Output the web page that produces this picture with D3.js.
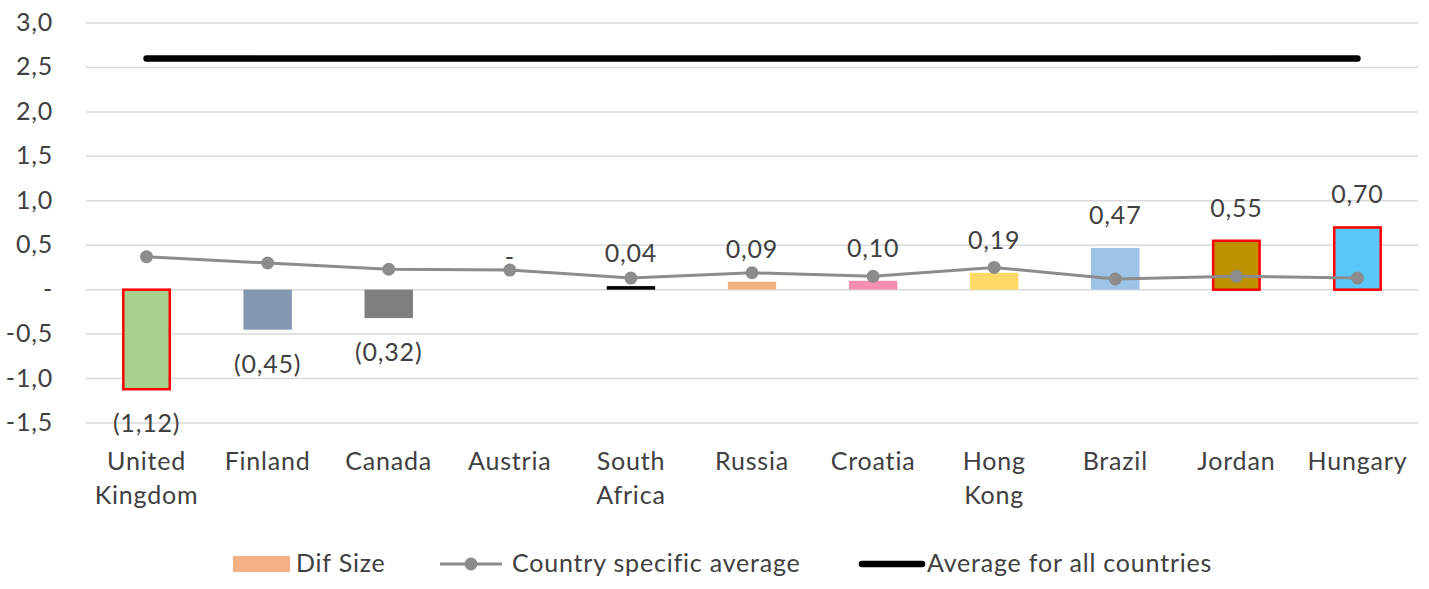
<!DOCTYPE html>
<html>
<head>
    <title>dif size chart</title>
    <script src="https://d3js.org/d3.v7.min.js"></script>
    <style>
        body { margin: 0; background: #fff; }
        text { font-family: "Lato", "Open Sans", sans-serif; fill: #404040; letter-spacing: 0.8px; }
    </style>
</head>
<body>
    <svg id="chart" width="1429" height="589"></svg>
    <script>

// data
var countries = ["United Kingdom", "Finland", "Canada", "Austria", "South Africa", "Russia",
                 "Croatia", "Hong Kong", "Brazil", "Jordan", "Hungary"];
var difSize = [-1.12, -0.45, -0.32, 0, 0.04, 0.09, 0.10, 0.19, 0.47, 0.55, 0.70];
var countryAvg = [0.37, 0.30, 0.23, 0.22, 0.13, 0.19, 0.15, 0.25, 0.12, 0.15, 0.13];
var allAvg = 2.6;
var barColors = ["#a9d18e", "#8497b0", "#7f7f7f", "none", "#000000", "#f4b183",
                 "#f48fb1", "#ffd966", "#9dc3e6", "#bf9000", "#5bc8fa"];
var redBorder = [true, false, false, false, false, false, false, false, false, true, true];
var yTicks = [-1.5, -1.0, -0.5, 0, 0.5, 1.0, 1.5, 2.0, 2.5, 3.0];

var FS = 25;

var svg = d3.select('#chart');

var x = d3.scaleBand()
    .domain(countries)
    .range([86, 1418])
    .paddingInner(0.6)
    .paddingOuter(0.3);

var y = d3.scaleLinear()
    .domain([-1.5, 3.0])
    .range([423, 23]);

function fmt(v) {
    if (v === 0) return '-';
    var s = Math.abs(v).toFixed(2).replace('.', ',');
    return v < 0 ? '(' + s + ')' : s;
}
function fmtTick(v) {
    if (v === 0) return '-';
    return v.toFixed(1).replace('.', ',');
}

// gridlines
svg.append('g')
  .selectAll('line')
  .data(yTicks)
  .enter().append('line')
    .attr('x1', 86).attr('x2', 1418)
    .attr('y1', function (d) { return y(d) })
    .attr('y2', function (d) { return y(d) })
    .attr('stroke', '#d9d9d9')
    .attr('stroke-width', 1.5)

// y tick labels
svg.append('g')
  .selectAll('text')
  .data(yTicks)
  .enter().append('text')
    .attr('x', 53)
    .attr('y', function (d) { return y(d) + 8 })
    .attr('text-anchor', 'end')
    .attr('font-size', FS)
    .text(fmtTick)

// bars
var bars = countries.map(function (c, i) {
    return { c: c, v: difSize[i], color: barColors[i], red: redBorder[i] }
}).filter(function (d) { return d.v !== 0 })

svg.append('g')
  .selectAll('rect')
  .data(bars)
  .enter().append('rect')
    .attr('x', function (d) { return x(d.c) + (d.red ? 1 : 0) })
    .attr('width', function (d) { return x.bandwidth() - (d.red ? 2 : 0) })
    .attr('y', function (d) { return y(Math.max(0, d.v)) })
    .attr('height', function (d) { return Math.abs(y(d.v) - y(0)) })
    .attr('fill', function (d) { return d.color })
    .attr('stroke', function (d) { return d.red ? '#ff0000' : 'none' })
    .attr('stroke-width', 2.5)

// all countries average
svg.append('line')
    .attr('x1', x(countries[0]) + x.bandwidth() / 2)
    .attr('x2', x(countries[countries.length - 1]) + x.bandwidth() / 2)
    .attr('y1', y(allAvg)).attr('y2', y(allAvg))
    .attr('stroke', '#000')
    .attr('stroke-width', 6.5)
    .attr('stroke-linecap', 'round')

// country specific average
var line = d3.line()
    .x(function (d, i) { return x(countries[i]) + x.bandwidth() / 2 })
    .y(function (d) { return y(d) })

svg.append('path')
    .datum(countryAvg)
    .attr('d', line)
    .attr('fill', 'none')
    .attr('stroke', '#8c8c8c')
    .attr('stroke-width', 3)

svg.append('g')
  .selectAll('circle')
  .data(countryAvg)
  .enter().append('circle')
    .attr('cx', function (d, i) { return x(countries[i]) + x.bandwidth() / 2 })
    .attr('cy', function (d) { return y(d) })
    .attr('r', 6.5)
    .attr('fill', '#8c8c8c')

// bar value labels
svg.append('g')
  .selectAll('text')
  .data(difSize)
  .enter().append('text')
    .attr('x', function (d, i) { return x(countries[i]) + x.bandwidth() / 2 })
    .attr('y', function (d) { return d < 0 ? y(d) + 43 : y(d) - 24 })
    .attr('text-anchor', 'middle')
    .attr('font-size', FS)
    .text(fmt)

// category labels
var xl = svg.append('g')
  .selectAll('text')
  .data(countries)
  .enter().append('text')
    .attr('x', function (d) { return x(d) + x.bandwidth() / 2 })
    .attr('y', 470)
    .attr('text-anchor', 'middle')
    .attr('font-size', FS)

xl.each(function (d) {
    var words = d.split(' ')
    var t = d3.select(this)
    words.forEach(function (w, k) {
        t.append('tspan')
            .attr('x', x(d) + x.bandwidth() / 2)
            .attr('dy', k === 0 ? 0 : 34)
            .text(w)
    })
})

// legend
var lg = svg.append('g')
lg.append('rect')
    .attr('x', 233).attr('y', 556).attr('width', 57).attr('height', 16)
    .attr('fill', '#f4b183')
lg.append('text').attr('x', 296).attr('y', 572).attr('font-size', FS).text('Dif Size')

lg.append('line')
    .attr('x1', 440).attr('x2', 502).attr('y1', 564).attr('y2', 564)
    .attr('stroke', '#8c8c8c').attr('stroke-width', 3)
lg.append('circle').attr('cx', 471).attr('cy', 564).attr('r', 6.5).attr('fill', '#8c8c8c')
lg.append('text').attr('x', 512).attr('y', 572).attr('font-size', FS).text('Country specific average')

lg.append('line')
    .attr('x1', 862).attr('x2', 922).attr('y1', 564).attr('y2', 564)
    .attr('stroke', '#000').attr('stroke-width', 6.5).attr('stroke-linecap', 'round')
lg.append('text').attr('x', 927).attr('y', 572).attr('font-size', FS).text('Average for all countries')

    </script>
</body>
</html>
